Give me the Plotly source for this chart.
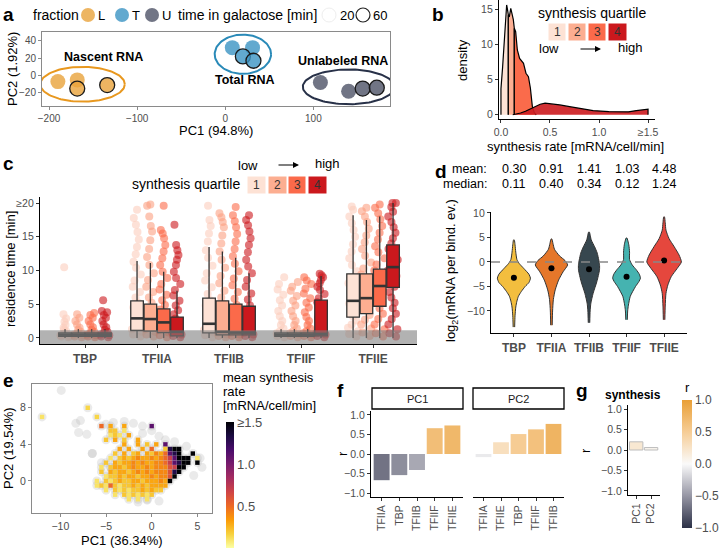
import numpy as np
import plotly.graph_objects as go

W, H = 720, 548
FONT = "Liberation Sans"
TICK_C = "#4D4D4D"

# ======================= DATA =======================
# --- panel a: PCA of RNA fractions
a_fraction = ["L", "L", "L", "L", "T", "T", "T", "T", "U", "U", "U", "U"]
a_time = [20, 20, 60, 60, 20, 20, 60, 60, 20, 20, 60, 60]
a_pc1 = [-190, -168, -168, -134, 8, 31, 20, 32, 108, 140, 156, 172]
a_pc2 = [-7, -5, -15, -11, 32, 32, 22, 17, -8, -18, -15, -14]
a_groups = ["L", "T", "U"]
a_group_names = ["Nascent RNA", "Total RNA", "Unlabeled RNA"]
a_label_pos = [(-138, 21), (22, -5), (134, 17)]

# --- panel b: synthesis rate density per quartile
b_q1_x = [0.0, 0.017, 0.03, 0.044, 0.054, 0.058, 0.066, 0.075]
b_q1_y = [3.7, 6.8, 10.1, 13.4, 15.4, 15.6, 15.0, 14.2]
b_q2_x = [0.075, 0.085, 0.095, 0.100, 0.110, 0.126, 0.136]
b_q2_y = [14.2, 13.9, 15.0, 15.1, 14.5, 13.5, 12.3]
b_q3_x = [0.136, 0.150, 0.167, 0.190, 0.210, 0.230, 0.255, 0.280, 0.300, 0.320, 0.340, 0.360]
b_q3_y = [12.3, 11.8, 9.2, 8.0, 7.6, 7.3, 5.9, 5.4, 3.8, 1.2, 0.3, 0.0]
b_q4_x = [0.12, 0.16, 0.20, 0.25, 0.30, 0.35, 0.40, 0.45, 0.50, 0.60, 0.70, 0.80, 0.94, 1.10, 1.21, 1.30, 1.38, 1.45, 1.50]
b_q4_y = [0.0, 0.08, 0.25, 0.5, 0.85, 1.2, 1.5, 1.65, 1.6, 1.4, 1.15, 0.9, 0.6, 0.45, 0.38, 0.42, 0.6, 0.72, 0.8]

# --- panel c: residence time per TF and synthesis quartile
tf_names = ["TBP", "TFIIA", "TFIIB", "TFIIF", "TFIIE"]
quartiles = ["1", "2", "3", "4"]
c_points = [
    [  # TBP
        [0.1, 0.2, 0.3, 0.4, 0.5, 0.6, 0.8, 1.0, 1.2, 1.5, 1.9, 2.4, 2.9, 3.5, 10.5],
        [0.1, 0.2, 0.4, 0.5, 0.7, 0.9, 1.2, 1.5, 2.0, 2.5, 3.0, 3.5],
        [0.1, 0.2, 0.4, 0.5, 0.7, 0.9, 1.2, 1.6, 2.0, 2.5, 3.0, 3.4, 3.7],
        [0.1, 0.2, 0.4, 0.5, 0.7, 0.9, 1.2, 1.6, 2.0, 2.5, 3.0, 3.4, 3.8, 4.0, 5.6],
    ],
    [  # TFIIA
        [0.2, 0.5, 0.9, 1.3, 1.8, 2.3, 2.8, 3.3, 3.9, 4.5, 5.2, 6.0, 6.8, 7.6, 8.5, 9.4, 10.4, 11.3, 12.4, 13.5, 14.6, 15.7, 16.8, 17.8, 19.0],
        [0.2, 0.5, 0.9, 1.3, 1.8, 2.3, 2.8, 3.3, 3.9, 4.5, 5.2, 6.0, 6.8, 7.6, 8.6, 9.6, 10.8, 12.0, 13.2, 14.5, 15.8, 16.6, 18.0, 19.6, 19.8],
        [0.1, 0.4, 0.8, 1.2, 1.6, 2.0, 2.5, 3.0, 3.6, 4.2, 4.9, 5.6, 6.4, 7.2, 8.0, 8.9, 9.8, 10.8, 11.8, 12.8, 13.8, 14.8, 15.5, 16.0, 19.6],
        [0.1, 0.3, 0.5, 0.8, 1.1, 1.5, 1.9, 2.4, 2.9, 3.5, 4.1, 4.8, 5.5, 6.3, 7.1, 8.0, 8.9, 9.8, 10.8, 11.6, 12.3, 13.0, 13.8, 16.8],
    ],
    [  # TFIIB
        [0.1, 0.4, 0.8, 1.2, 1.7, 2.2, 2.8, 3.4, 4.1, 4.8, 5.6, 6.5, 7.5, 8.5, 9.6, 10.7, 11.9, 13.0, 14.3, 15.5, 16.6, 17.5, 19.6],
        [0.1, 0.3, 0.5, 0.8, 1.1, 1.5, 2.0, 2.6, 3.3, 4.1, 5.0, 6.0, 7.0, 8.1, 9.2, 10.4, 11.6, 12.8, 14.0, 15.2, 16.4, 17.2, 17.9, 18.5],
        [0.1, 0.3, 0.5, 0.8, 1.1, 1.5, 2.0, 2.6, 3.3, 4.0, 4.9, 5.8, 6.8, 7.8, 8.8, 9.9, 11.0, 12.1, 13.2, 14.3, 15.4, 16.4, 17.3, 18.2, 19.4],
        [0.1, 0.3, 0.5, 0.8, 1.1, 1.5, 2.0, 2.6, 3.3, 4.0, 4.8, 5.7, 6.6, 7.6, 8.6, 9.6, 10.6, 11.6, 12.7, 13.8, 14.8, 15.8, 16.7, 17.5, 18.2],
    ],
    [  # TFIIF
        [0.1, 0.3, 0.5, 0.7, 1.0, 1.4, 1.9, 2.5, 3.2, 4.0, 4.8, 5.6, 6.4, 7.2, 8.0, 9.0],
        [0.1, 0.3, 0.5, 0.7, 1.0, 1.4, 1.9, 2.5, 3.2, 4.0, 4.8, 5.5, 6.2, 7.0, 7.6, 8.3],
        [0.1, 0.3, 0.5, 0.7, 1.0, 1.4, 1.9, 2.5, 3.1, 3.8, 4.5, 5.2, 5.9, 6.6, 7.3, 8.0, 8.5, 9.0],
        [0.1, 0.3, 0.5, 0.7, 0.9, 1.2, 1.6, 2.0, 2.5, 3.0, 3.5, 4.1, 4.7, 5.3, 5.9, 6.5, 7.1, 7.6, 8.1, 8.6, 9.0, 9.3, 9.5],
    ],
    [  # TFIIE
        [0.2, 0.6, 1.0, 1.5, 2.0, 2.6, 3.2, 3.8, 4.4, 5.1, 5.8, 6.5, 7.3, 8.1, 9.0, 9.9, 10.8, 11.8, 12.8, 13.9, 15.0, 16.0, 17.0, 18.0, 19.0, 19.5],
        [0.3, 0.8, 1.4, 2.0, 2.7, 3.4, 4.1, 4.8, 5.5, 6.2, 7.0, 7.8, 8.6, 9.4, 10.3, 11.2, 12.2, 13.2, 14.2, 15.2, 16.2, 17.2, 18.0, 18.8, 19.3],
        [0.2, 0.7, 1.3, 2.0, 2.8, 3.6, 4.4, 5.2, 6.0, 6.8, 7.6, 8.4, 9.2, 10.0, 10.9, 11.8, 12.7, 13.6, 14.6, 15.6, 16.6, 17.6, 18.5, 19.3, 19.8],
        [0.2, 0.7, 1.3, 2.0, 2.8, 3.6, 4.4, 5.2, 6.0, 6.8, 7.6, 8.4, 9.2, 10.0, 10.8, 11.6, 12.4, 13.2, 14.0, 14.8, 15.6, 16.4, 17.2, 18.0, 18.7, 19.4, 20.0, 20.0],
    ],
]
c_box_q1 = [[0.25, 0.25, 0.25, 0.25], [1.1, 1.0, 0.8, 0.3], [0.75, 0.45, 0.45, 0.45], [0.25, 0.25, 0.25, 0.3], [3.1, 3.6, 4.7, 7.5]]
c_box_med = [[0.5, 0.5, 0.5, 0.5], [2.9, 2.8, 2.3, 0.9], [2.1, 0.9, 0.8, 0.8], [0.5, 0.5, 0.5, 0.6], [5.5, 5.9, 7.7, 10.5]]
c_box_q3 = [[0.75, 0.75, 0.75, 0.75], [5.5, 5.0, 4.3, 3.1], [5.9, 5.5, 5.0, 4.7], [0.75, 0.75, 0.75, 5.6], [9.5, 9.5, 10.2, 13.8]]
c_box_lo = [[0, 0, 0, 0]] * 5
c_box_hi = [[1.3, 1.3, 1.3, 1.3], [11.4, 11.1, 9.8, 7.0], [13.5, 12.8, 11.9, 9.6], [1.3, 1.3, 1.3, 9.2], [18.2, 17.5, 18.0, 20.0]]
c_background_limit = 1.15

# --- panel d: mRNA per binding event
d_mean = [0.30, 0.91, 1.41, 1.03, 4.48]
d_median = [0.11, 0.40, 0.34, 0.12, 1.24]
d_dot = [-3.2, -1.3, -1.5, -3.0, 0.3]
d_levels = [
    [-13.3, -11, -9.2, -8, -7, -6, -5, -4.2, -3.3, -2.5, -1.3, -0.3, 0.5, 2, 3.5, 4.5],
    [-12.9, -10, -7.7, -5.7, -3.7, -2, -0.6, 0.3, 1.2, 2.6, 3.8, 4.7],
    [-12.4, -10, -8.4, -6.4, -4, -1.6, -0.5, 0.4, 1.8, 3.1, 4.5, 6.1],
    [-11.8, -10, -8.8, -7, -5, -4, -3.3, -2.5, -1.6, -0.6, 0.5, 2, 3.5, 4.9],
    [-11.8, -9, -6.4, -4.7, -3, -1.3, 0, 1.4, 3.1, 4.8, 6.5, 8, 9.2],
]
d_density = [
    [0.02, 0.03, 0.05, 0.08, 0.12, 0.2, 0.3, 0.4, 0.44, 0.4, 0.26, 0.14, 0.08, 0.05, 0.03, 0.01],
    [0.02, 0.03, 0.05, 0.1, 0.19, 0.31, 0.43, 0.36, 0.22, 0.08, 0.04, 0.01],
    [0.02, 0.03, 0.05, 0.11, 0.21, 0.28, 0.28, 0.26, 0.22, 0.15, 0.06, 0.01],
    [0.02, 0.03, 0.05, 0.1, 0.24, 0.33, 0.37, 0.34, 0.26, 0.15, 0.08, 0.08, 0.06, 0.01],
    [0.02, 0.03, 0.05, 0.1, 0.19, 0.35, 0.46, 0.4, 0.27, 0.13, 0.05, 0.03, 0.01],
]

# --- panel e: PCA of binding, binned mean synthesis
e_x0, e_ytop, e_step = -6.0, 6.0, 0.5
e_rows = [
    ".5.3..3.....p..........",
    "...22.1................",
    "...121.3...............",
    "..2.3.2..3.............",
    "......3..3.2.3.p.......",
    ".....3.3..3.5..2qXX....",
    "....2.3.23.32435pqX..X.",
    "...1.232343343457pXXX.1",
    "..2.3233434334457pqXX.X",
    ".1.233234334344467XX...",
    ".2.32332343434446qX....",
    "..122323323343446X.....",
    "1.21232233233343X......",
    "1215212232323333.......",
    "..1.21212232322........",
    "....1.2121212..........",
    ".......1.1.1...........",
]
e_code = {'1': 0.1, '2': 0.2, '3': 0.3, '4': 0.4, '5': 0.5, '6': 0.6, '7': 0.7,
          '8': 0.8, '9': 0.9, 'p': 1.1, 'q': 1.3, 'X': 1.5}
e_extra_x = [-12.0, -7.0, -6.0]
e_extra_y = [7.0, 8.0, 7.0]
e_extra_v = [0.1, 0.15, 0.15]
e_gray_x = [-9.9, -8.3, -7.8, -8.0, -7.1, -6.5, -6.5, -5.0, -4.2, -2.0, -1.0, 0.8, 2.5, 3.8, 5.3, 5.5,
            4.6, 0.8, -1.5, -0.5, -3.0, -1.0, 0.0, 1.5, -5.5, -4.5]
e_gray_y = [9.9, 6.3, 6.6, 5.3, 5.1, 3.0, 3.0, 6.2, 6.4, 6.3, 5.2, 4.9, 4.3, 3.8, 2.5, 1.5,
            0.6, -2.2, -2.3, -2.1, 6.5, 6.0, 5.5, 4.5, 2.0, 1.5]

# --- panel f / g: correlations
f_pc1_tf = ["TFIIA", "TBP", "TFIIB", "TFIIF", "TFIIE"]
f_pc1_r = [-0.67, -0.54, -0.41, 0.66, 0.73]
f_pc2_tf = ["TFIIA", "TFIIE", "TBP", "TFIIF", "TFIIB"]
f_pc2_r = [-0.08, 0.30, 0.51, 0.63, 0.77]
g_pc = ["PC1", "PC2"]
g_r = [0.20, 0.06]

# ======================= STYLE =======================
a_fill = {"L": "rgba(233,162,59,0.8)", "T": "rgba(59,147,195,0.8)", "U": "rgba(77,83,102,0.8)"}
a_ring = {"L": "#E8981F", "T": "#2A8AB8", "U": "#283148"}
q_fill = ["#FDE2D5", "#FCAE91", "#FB6A4A", "#CB181D"]
q_fill_b = ["#FDE3D6", "#FCAF93", "#FA6B4B", "rgba(205,30,35,0.92)"]
q_pts = ["rgba(252,205,188,0.6)", "rgba(252,160,130,0.6)", "rgba(251,106,74,0.6)", "rgba(203,24,29,0.6)"]
d_cols = ["#F3BE3E", "#E5772A", "#37474F", "#45B3B0", "#E5473D"]
inferno_r = ['#fcffa4', '#f7d13d', '#fb9b06', '#ed6925', '#cf4446', '#a52c60',
             '#781c6d', '#4a0c6b', '#1b0c41', '#000004']
r_scale = [[0, '#2B3046'], [0.25, '#9696A4'], [0.5, '#FAFAFA'], [0.75, '#F6CD96'], [1, '#E99F36']]


def fx(px):
    return px / W


def fy(py):
    return 1 - py / H


def dom_x(a, b):
    return [a / W, b / W]


def dom_y(top, bot):
    return [1 - bot / H, 1 - top / H]


fig = go.Figure()

# ---------------- panel a ----------------
for gi, g in enumerate(a_groups):
    idx = [i for i, f in enumerate(a_fraction) if f == g]
    xs = [a_pc1[i] for i in idx]
    ys = [a_pc2[i] for i in idx]
    lw = [1.3 if a_time[i] == 60 else 0 for i in idx]
    cx, cy = (min(xs) + max(xs)) / 2, (min(ys) + max(ys)) / 2
    rx, ry = (max(xs) - min(xs)) / 2 + 20, (max(ys) - min(ys)) / 2 + 15
    t = np.linspace(0, 2 * np.pi, 120)
    fig.add_trace(go.Scatter(x=cx + rx * np.cos(t), y=cy + ry * np.sin(t), mode='lines',
                             line=dict(color=a_ring[g], width=2), xaxis='x', yaxis='y', hoverinfo='skip'))
    fig.add_trace(go.Scatter(x=xs, y=ys, mode='markers', xaxis='x', yaxis='y', hoverinfo='skip',
                             marker=dict(size=15, color=a_fill[g], line=dict(color='#1a1a1a', width=lw))))

# ---------------- panel b ----------------
for k, (xs, ys) in enumerate([(b_q1_x, b_q1_y), (b_q2_x, b_q2_y), (b_q3_x, b_q3_y), (b_q4_x, b_q4_y)]):
    fig.add_trace(go.Scatter(x=[xs[0]] + xs + [xs[-1]], y=[0] + ys + [0], fill='toself',
                             fillcolor=q_fill_b[k], mode='lines', line=dict(color='black', width=1.2),
                             xaxis='x2', yaxis='y2', hoverinfo='skip'))

# ---------------- panel c ----------------
c_w = 0.175
c_sp = 0.185
for ti in range(len(tf_names)):
    for qi in range(4):
        pos = ti + (qi - 1.5) * c_sp
        vals = c_points[ti][qi]
        fig.add_trace(go.Box(x=[pos] * len(vals), y=vals, width=c_w, boxpoints='all', jitter=1, pointpos=0,
                             marker=dict(color=q_pts[qi], size=8), line=dict(width=0, color='rgba(0,0,0,0)'),
                             fillcolor='rgba(0,0,0,0)', xaxis='x3', yaxis='y3', hoverinfo='skip'))
for ti in range(len(tf_names)):
    for qi in range(4):
        pos = ti + (qi - 1.5) * c_sp
        fig.add_trace(go.Box(x=[pos], q1=[c_box_q1[ti][qi]], median=[c_box_med[ti][qi]],
                             q3=[c_box_q3[ti][qi]], lowerfence=[c_box_lo[ti][qi]],
                             upperfence=[c_box_hi[ti][qi]], width=c_w, whiskerwidth=0,
                             fillcolor=q_fill[qi], line=dict(color='#333333', width=1.3),
                             boxpoints=False, xaxis='x3', yaxis='y3', hoverinfo='skip'))
        fig.add_trace(go.Scatter(x=[pos - c_w / 2, pos + c_w / 2], y=[c_box_med[ti][qi]] * 2, mode='lines',
                                 line=dict(color='#333333', width=2.6), xaxis='x3', yaxis='y3',
                                 hoverinfo='skip'))

# ---------------- panel d ----------------
for ti in range(len(tf_names)):
    lv, dw = d_levels[ti], d_density[ti]
    xs = [ti + w for w in dw] + [ti - w for w in dw[::-1]]
    ys = lv + lv[::-1]
    fig.add_trace(go.Scatter(x=xs, y=ys, fill='toself', fillcolor=d_cols[ti], mode='lines',
                             line=dict(color='#333333', width=1, shape='spline', smoothing=0.6),
                             xaxis='x4', yaxis='y4', hoverinfo='skip'))
fig.add_trace(go.Scatter(x=list(range(len(tf_names))), y=d_dot, mode='markers',
                         marker=dict(color='black', size=6), xaxis='x4', yaxis='y4', hoverinfo='skip'))

# ---------------- panel e ----------------
tx, ty, tv = [], [], []
for i, row in enumerate(e_rows):
    for j, ch in enumerate(row):
        if ch in e_code:
            tx.append(e_x0 + j * e_step)
            ty.append(e_ytop - i * e_step)
            tv.append(e_code[ch])
tx += e_extra_x
ty += e_extra_y
tv += e_extra_v
fig.add_trace(go.Scatter(x=tx + e_gray_x, y=ty + e_gray_y, mode='markers',
                         marker=dict(size=9, color='rgba(185,185,185,0.3)'),
                         xaxis='x5', yaxis='y5', hoverinfo='skip'))
fig.add_trace(go.Scatter(x=tx, y=ty, mode='markers',
                         marker=dict(size=4.4, symbol='square', color=tv, coloraxis='coloraxis', line=dict(width=0)),
                         xaxis='x5', yaxis='y5', hoverinfo='skip'))

# ---------------- panel f / g ----------------
fig.add_trace(go.Bar(x=f_pc1_tf, y=f_pc1_r, width=0.9, marker=dict(color=f_pc1_r, coloraxis='coloraxis2', line=dict(width=0)),
                     xaxis='x6', yaxis='y6', hoverinfo='skip'))
fig.add_trace(go.Bar(x=f_pc2_tf, y=f_pc2_r, width=0.9, marker=dict(color=f_pc2_r, coloraxis='coloraxis2', line=dict(width=0)),
                     xaxis='x7', yaxis='y7', hoverinfo='skip'))
fig.add_trace(go.Bar(x=g_pc, y=g_r, width=0.9, marker=dict(color=g_r, coloraxis='coloraxis2',
                                                          line=dict(width=1, color='#BDBDBD')),
                     xaxis='x8', yaxis='y8', hoverinfo='skip'))


# ======================= LAYOUT =======================
def axis(domain, rng, anchor, **kw):
    d = dict(domain=domain, range=rng, anchor=anchor, showgrid=False, zeroline=False,
             ticks='outside', ticklen=3, tickwidth=1, tickcolor='#333333',
             tickfont=dict(family=FONT, size=10.5, color=TICK_C),
             showline=True, linecolor='black', linewidth=1.3, fixedrange=True)
    d.update(kw)
    return d


rticks = [-1, -0.5, 0, 0.5, 1]
rtext = ["\u22121.0", "\u22120.5", "0.0", "0.5", "1.0"]
box_gray = '#8A8A8A'
bold_tf = ["<b>%s</b>" % n for n in tf_names]

layout_axes = dict(
    xaxis=axis(dom_x(42, 390), [-208, 187], 'y', tickvals=[-200, -100, 0, 100], mirror=True,
               linecolor=box_gray, linewidth=1, tickcolor=box_gray, tickfont=dict(family=FONT, size=10, color=TICK_C)),
    yaxis=axis(dom_y(32, 106), [-35, 50], 'x', tickvals=[-20, 0, 20, 40], mirror=True,
               linecolor=box_gray, linewidth=1, tickcolor=box_gray, tickfont=dict(family=FONT, size=10, color=TICK_C)),
    xaxis2=axis(dom_x(499, 655), [-0.02, 1.571], 'y2', tickvals=[0, 0.5, 1.0, 1.5],
                ticktext=["0.0", "0.5", "1.0", "\u22651.5"]),
    yaxis2=axis(dom_y(0, 119), [-0.6, 16.3], 'x2', tickvals=[0, 5, 10, 15]),
    xaxis3=axis(dom_x(40, 417), [-0.625, 4.61], 'y3', tickvals=list(range(5)), ticktext=bold_tf,
                tickfont=dict(family=FONT, size=12, color=TICK_C)),
    yaxis3=axis(dom_y(197, 344), [-0.9, 20.9], 'x3', tickvals=[0, 5, 10, 15, 20],
                ticktext=["0", "5", "10", "15", "\u226520"]),
    xaxis4=axis(dom_x(491, 687), [-0.61, 4.61], 'y4', tickvals=list(range(5)), ticktext=bold_tf,
                tickfont=dict(family=FONT, size=12, color=TICK_C)),
    yaxis4=axis(dom_y(212, 333), [-14.5, 10.2], 'x4', tickvals=[-10, -5, 0, 5, 10]),
    xaxis5=axis(dom_x(32, 212), [-13.1, 6.6], 'y5', tickvals=[-10, -5, 0, 5], mirror=True,
                linecolor=box_gray, linewidth=1, tickcolor=box_gray),
    yaxis5=axis(dom_y(384, 513), [-3.5, 10.6], 'x5', tickvals=[0, 4, 8], mirror=True,
                linecolor=box_gray, linewidth=1, tickcolor=box_gray),
    xaxis6=axis(dom_x(371, 463), [-0.6, 4.6], 'y6', type='category', tickangle=-90),
    yaxis6=axis(dom_y(411, 497), [-1.1, 1.1], 'x6', tickvals=rticks, ticktext=rtext),
    xaxis7=axis(dom_x(473, 564), [-0.6, 4.6], 'y7', type='category', tickangle=-90),
    yaxis7=axis(dom_y(411, 497), [-1.1, 1.1], 'x7', showline=False, showticklabels=False, ticks=''),
    xaxis8=axis(dom_x(628, 660), [-0.55, 1.6], 'y8', type='category', tickangle=-90),
    yaxis8=axis(dom_y(405, 495), [-1.1, 1.1], 'x8', tickvals=rticks, ticktext=rtext),
)


def txt(x, y, s, size=13, bold=False, color='black', xanchor='center', yanchor='middle', angle=0):
    return dict(x=fx(x), y=fy(y), xref='paper', yref='paper', showarrow=False,
                text=("<b>%s</b>" % s) if bold else s, textangle=angle,
                font=dict(family=FONT, size=size, color=color), xanchor=xanchor, yanchor=yanchor)


def rect(x0, y0, x1, y1, fill, line='white', lw=1):
    return dict(type='rect', xref='paper', yref='paper', x0=fx(x0), x1=fx(x1), y0=fy(y1), y1=fy(y0),
                fillcolor=fill, line=dict(color=line, width=lw), layer='above')


def circ(cx, cy, r, fill, line='rgba(0,0,0,0)', lw=0):
    return dict(type='circle', xref='paper', yref='paper', x0=fx(cx - r), x1=fx(cx + r),
                y0=fy(cy + r), y1=fy(cy - r), fillcolor=fill, line=dict(color=line, width=lw), layer='above')


ann = []
shapes = []

# panel letters
for letter, (x, y) in zip("abcdefg", [(8, 14), (438, 15), (8, 163), (441, 172), (8, 380), (340, 390), (582, 390)]):
    ann.append(txt(x, y, letter, size=19, bold=True))

# panel a legend and labels
ann.append(txt(31, 15, "fraction", size=14, xanchor='left'))
for g, cx in zip(a_groups, [88, 122, 152]):
    shapes.append(circ(cx, 15, 7, a_fill[g]))
    ann.append(txt(cx + 8, 16, g, size=13, xanchor='left'))
ann.append(txt(176, 15, "time in galactose [min]", size=14, xanchor='left'))
shapes.append(circ(329, 15, 7, 'rgba(0,0,0,0)', '#EEEEEE', 1))
ann.append(txt(338, 16, "20", size=13, xanchor='left'))
shapes.append(circ(363, 15, 7, 'rgba(0,0,0,0)', '#222222', 1.2))
ann.append(txt(371, 16, "60", size=13, xanchor='left'))
for name, (lx, ly) in zip(a_group_names, a_label_pos):
    ann.append(dict(x=lx, y=ly, xref='x', yref='y', text="<b>%s</b>" % name, showarrow=False,
                    font=dict(family=FONT, size=12.5, color='black')))
ann.append(txt(216, 130, "PC1 (94.8%)", size=13))
ann.append(txt(12, 69, "PC2 (1.92%)", size=13, angle=-90))

# panel b legend and titles
ann.append(txt(592, 13, "synthesis quartile", size=14))
for k, (x0, x1) in enumerate([(548, 566), (568, 586), (588, 606), (608, 627)]):
    shapes.append(rect(x0, 23, x1, 41, q_fill[k]))
    ann.append(txt((x0 + x1) / 2, 32, quartiles[k], size=12, color='#333333'))
ann.append(txt(549, 48, "low", size=13))
ann.append(txt(630, 47, "high", size=13))
ann.append(dict(x=fx(601), y=fy(49), xref='paper', yref='paper', ax=-22, ay=0, text='', showarrow=True,
                arrowhead=2, arrowsize=1, arrowwidth=1.2, arrowcolor='black'))
ann.append(txt(575, 146, "synthesis rate [mRNA/cell/min]", size=13))
ann.append(txt(463, 60, "density", size=13, angle=-90))

# panel c legend and titles
ann.append(txt(130, 184, "synthesis quartile", size=14, xanchor='left'))
for k, (x0, x1) in enumerate([(247, 266), (268, 287), (288, 306), (308, 327)]):
    shapes.append(rect(x0, 176, x1, 194, q_fill[k]))
    ann.append(txt((x0 + x1) / 2, 185, quartiles[k], size=12, color='#333333'))
ann.append(txt(248, 165, "low", size=13))
ann.append(txt(327, 164, "high", size=13))
ann.append(dict(x=fx(299), y=fy(165), xref='paper', yref='paper', ax=-22, ay=0, text='', showarrow=True,
                arrowhead=2, arrowsize=1, arrowwidth=1.2, arrowcolor='black'))
ann.append(txt(10, 269, "residence time [min]", size=13, angle=-90))
shapes.append(dict(type='rect', xref='x3 domain', yref='y3', x0=0, x1=1, y0=-0.9, y1=c_background_limit,
                   fillcolor='rgba(127,127,127,0.6)', line=dict(width=0), layer='above'))

# panel d texts
ann.append(txt(489, 169, "mean:", size=12.5, xanchor='right'))
ann.append(txt(489, 184, "median:", size=12.5, xanchor='right'))
for i in range(len(tf_names)):
    ann.append(dict(x=i, y=fy(169), xref='x4', yref='paper', text="%.2f" % d_mean[i], showarrow=False,
                    yanchor='middle', font=dict(family=FONT, size=12.5, color='black')))
    ann.append(dict(x=i, y=fy(184), xref='x4', yref='paper', text="%.2f" % d_median[i], showarrow=False,
                    yanchor='middle', font=dict(family=FONT, size=12.5, color='black')))
ann.append(txt(451, 271, "log<sub>2</sub>(mRNA per bind. ev.)", size=13, angle=-90))
shapes.append(dict(type='line', xref='x4 domain', yref='y4', x0=0, x1=1, y0=0, y1=0,
                   line=dict(color='#888888', width=1.5, dash='dash'), layer='above'))

# panel e texts
ann.append(txt(122, 540, "PC1 (36.34%)", size=13))
ann.append(txt(8, 448, "PC2 (19.54%)", size=13, angle=-90))
ann.append(txt(221, 377, "mean synthesis", size=13, xanchor='left'))
ann.append(txt(221, 391, "rate", size=13, xanchor='left'))
ann.append(txt(221, 405, "[mRNA/cell/min]", size=13, xanchor='left'))

# panel f strips and titles
for (x0, x1), lab in zip([(372, 463), (473, 564)], ["PC1", "PC2"]):
    shapes.append(rect(x0, 388, x1, 409, 'white', 'black', 1.3))
    ann.append(txt((x0 + x1) / 2, 398.5, lab, size=11, color='#1a1a1a'))
ann.append(txt(342, 454, "r", size=13, angle=-90))

# panel g texts
ann.append(txt(633, 395, "synthesis", size=12, bold=True))
ann.append(txt(585, 451, "r", size=13, angle=-90))
ann.append(txt(687, 387, "r", size=13))

fig.update_layout(
    width=W, height=H, autosize=False,
    margin=dict(l=0, r=0, t=0, b=0, autoexpand=False),
    paper_bgcolor='white', plot_bgcolor='white', showlegend=False,
    font=dict(family=FONT, color='black'),
    annotations=ann, shapes=shapes,
    coloraxis=dict(colorscale=[[i / 9, c] for i, c in enumerate(inferno_r)], cmin=0, cmax=1.5,
                   colorbar=dict(x=fx(226), xanchor='left', y=fy(422), yanchor='top', len=(H - 422) / H,
                                 lenmode='fraction', thickness=8, thicknessmode='pixels', outlinewidth=0,
                                 tickvals=[0.5, 1.0, 1.5], ticktext=['0.5', '1.0', '\u22651.5'], ticks='',
                                 tickfont=dict(family=FONT, size=13, color=TICK_C), xpad=0, ypad=0)),
    coloraxis2=dict(colorscale=r_scale, cmin=-1, cmax=1,
                    colorbar=dict(x=fx(682), xanchor='left', y=fy(400), yanchor='top', len=128 / H,
                                  lenmode='fraction', thickness=10, thicknessmode='pixels', outlinewidth=0,
                                  tickvals=rticks, ticktext=rtext, ticks='',
                                  tickfont=dict(family=FONT, size=12, color=TICK_C), xpad=0, ypad=0)),
    **layout_axes,
)

fig.write_html("out.html", config={"displayModeBar": False},
               post_script="document.body.style.margin='0';document.body.style.padding='0';")
